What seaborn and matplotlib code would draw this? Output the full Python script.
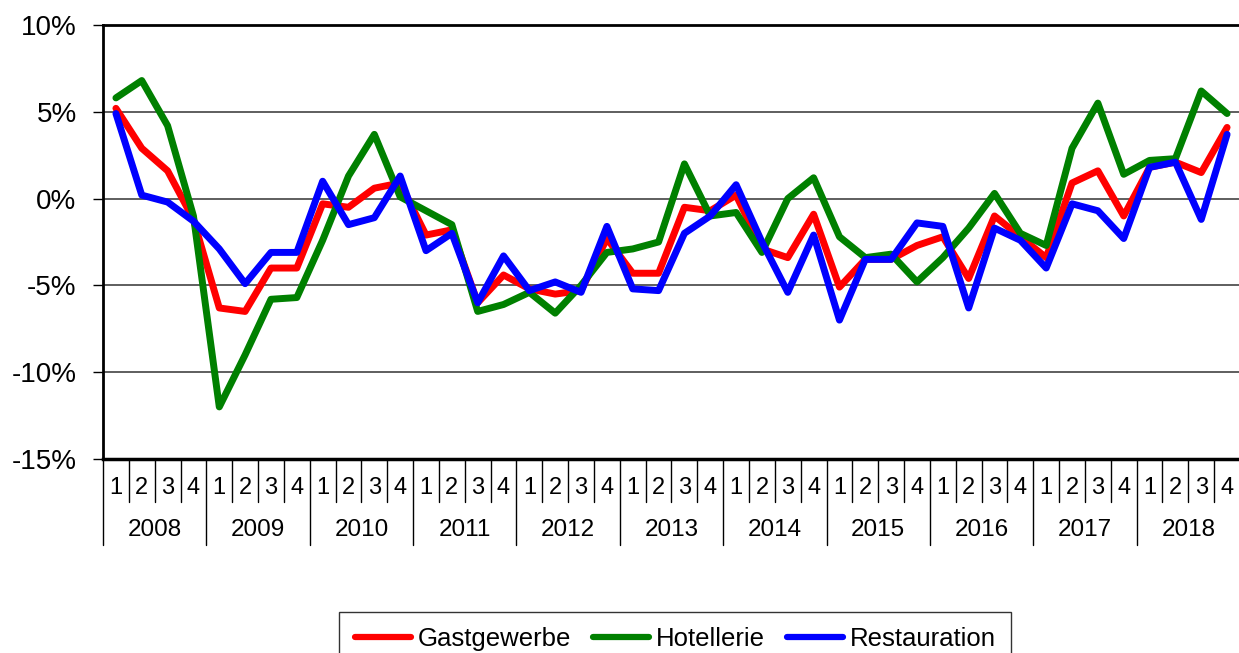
import numpy as np
import pandas as pd
import matplotlib
matplotlib.use('Agg')
import matplotlib.pyplot as plt
import seaborn as sns
from matplotlib.transforms import blended_transform_factory

# ---------------- data ----------------
years = [str(y) for y in range(2008, 2019)]
quarters = ['1', '2', '3', '4']
series_names = ['Gastgewerbe', 'Hotellerie', 'Restauration']

gastgewerbe = [5.2, 2.9, 1.6, -1.2,
               -6.3, -6.5, -4.0, -4.0,
               -0.3, -0.5, 0.6, 0.9,
               -2.1, -1.8, -6.0, -4.4,
               -5.2, -5.5, -5.3, -2.3,
               -4.3, -4.3, -0.5, -0.7,
               0.2, -2.9, -3.4, -0.9,
               -5.1, -3.5, -3.5, -2.7,
               -2.2, -4.6, -1.0, -2.2,
               -3.4, 0.9, 1.6, -1.0,
               1.8, 2.1, 1.5, 4.1]

hotellerie = [5.8, 6.8, 4.2, -1.0,
              -12.0, -9.0, -5.8, -5.7,
              -2.4, 1.3, 3.7, 0.1,
              -0.7, -1.5, -6.5, -6.1,
              -5.4, -6.6, -5.0, -3.1,
              -2.9, -2.5, 2.0, -1.0,
              -0.8, -3.1, 0.0, 1.2,
              -2.2, -3.4, -3.2, -4.8,
              -3.4, -1.7, 0.3, -2.0,
              -2.7, 2.9, 5.5, 1.4,
              2.2, 2.3, 6.2, 4.9]

restauration = [4.9, 0.2, -0.2, -1.3,
                -2.9, -4.9, -3.1, -3.1,
                1.0, -1.5, -1.1, 1.3,
                -3.0, -2.0, -6.0, -3.3,
                -5.3, -4.8, -5.4, -1.6,
                -5.2, -5.3, -2.0, -1.0,
                0.8, -2.5, -5.4, -2.1,
                -7.0, -3.5, -3.5, -1.4,
                -1.6, -6.3, -1.7, -2.4,
                -4.0, -0.3, -0.7, -2.3,
                1.8, 2.1, -1.2, 3.7]

y_ticks = [10, 5, 0, -5, -10, -15]
y_tick_labels = ['10%', '5%', '0%', '-5%', '-10%', '-15%']
colors = ['#ff0000', '#008000', '#0000ff']

# ---------------- style ----------------
sns.set_style('white')
plt.rcParams['font.family'] = ['Liberation Sans', 'DejaVu Sans']
plt.rcParams['text.color'] = 'black'
plt.rcParams['xtick.color'] = 'black'
plt.rcParams['ytick.color'] = 'black'
plt.rcParams['axes.labelcolor'] = 'black'

quarter_labels = [q for y in years for q in quarters]
n = len(quarter_labels)
idx = np.arange(n)
df = pd.DataFrame({
    'idx': np.tile(idx, 3),
    'value': gastgewerbe + hotellerie + restauration,
    'series': np.repeat(series_names, n),
})

fig = plt.figure(figsize=(12.39, 6.53), dpi=100)
ax = fig.add_axes([103 / 1239, 1 - 459 / 653, (1240 - 103) / 1239, (459 - 25) / 653])

sns.lineplot(data=df, x='idx', y='value', hue='series', hue_order=series_names,
             palette=colors, linewidth=5, ax=ax, legend=True, zorder=3)
for line in ax.lines:
    line.set_solid_capstyle('round')
    line.set_solid_joinstyle('round')

ax.set_xlim(-0.5, n - 0.5)
ax.set_ylim(-15, 10)
ax.set_yticks(y_ticks)
ax.set_yticklabels(y_tick_labels, fontsize=20, color='black')
ax.tick_params(axis='y', length=7, width=1, color='black', pad=12, direction='out', left=True)
ax.set_xticks([])
ax.set_xlabel('')
ax.set_ylabel('')

for v in [5, 0, -5, -10]:
    ax.axhline(v, color='#333333', lw=1.1, zorder=1)

ax.spines['right'].set_visible(False)
ax.spines['left'].set_color('black')
ax.spines['left'].set_linewidth(2)
ax.spines['top'].set_color('black')
ax.spines['top'].set_linewidth(2)
ax.spines['bottom'].set_color('black')
ax.spines['bottom'].set_linewidth(2.5)

# category axis: quarters and years with separators
trans = blended_transform_factory(ax.transData, ax.transAxes)
axh = 459 - 25
for i in range(n + 1):
    x = i - 0.5
    length = -86 / axh if i % 4 == 0 else -43 / axh
    ax.plot([x, x], [0, length], transform=trans, color='black', lw=1, clip_on=False)
for i, q in enumerate(quarter_labels):
    ax.text(i, -(488 - 459) / axh, q, transform=trans, ha='center', va='center',
            fontsize=17, color='black')
for k, y in enumerate(years):
    ax.text(4 * k + 1.5, -(530 - 459) / axh, y, transform=trans, ha='center', va='center',
            fontsize=17.5, color='black')

# legend
handles, labels = ax.get_legend_handles_labels()
if ax.get_legend() is not None:
    ax.get_legend().remove()
leg = fig.legend(handles, labels, loc='upper center', bbox_to_anchor=(675 / 1239, 1 - 612 / 653),
                 ncol=3, fontsize=18.5, frameon=True, fancybox=False, edgecolor='black',
                 handlelength=2.2, handletextpad=0.25, columnspacing=0.85, borderpad=0.6,
                 borderaxespad=0)
leg.get_frame().set_linewidth(1)
for t in leg.get_texts():
    t.set_color('black')
for l in leg.get_lines():
    l.set_linewidth(4.5)
    l.set_solid_capstyle('round')

fig.savefig('out.png', dpi=100)
